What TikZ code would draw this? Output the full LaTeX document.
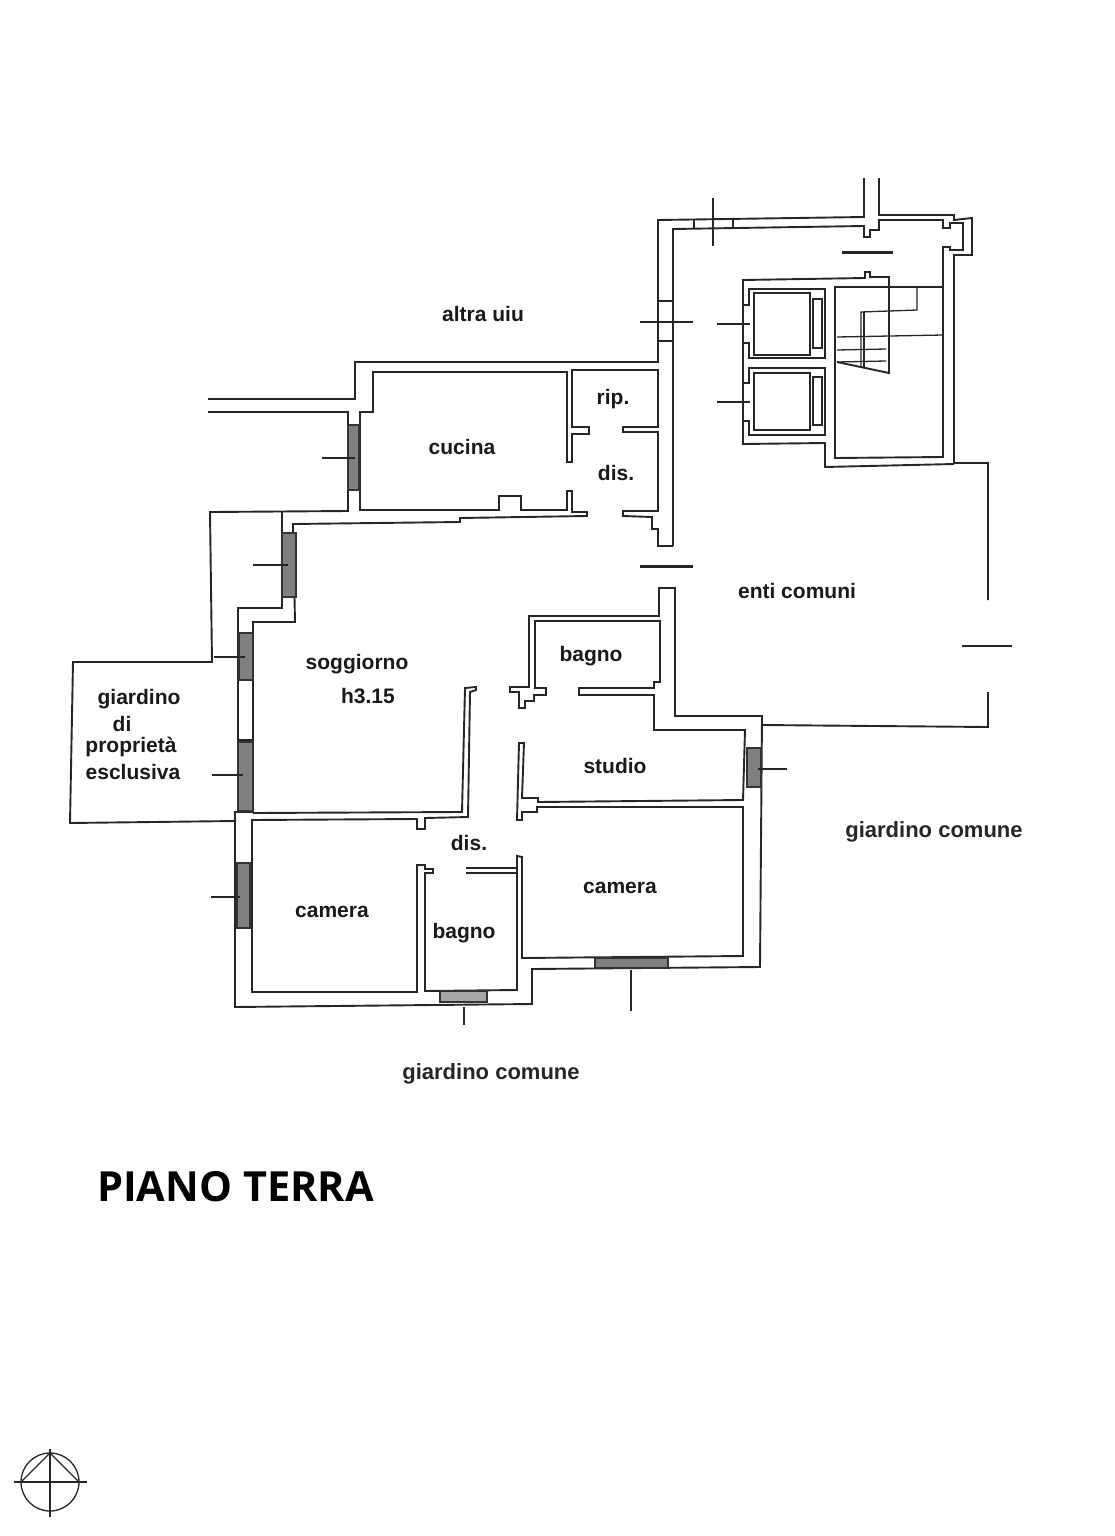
\documentclass[tikz,border=0pt]{standalone}
\usepackage{fontspec}
\setmainfont{Liberation Sans}
\newfontfamily\titlefont{Open Sans}
\tikzset{
  wall/.style={line width=1.9pt, draw=black!85, line join=miter},
  heavy/.style={line width=3pt, draw=black!85},
  thinwall/.style={line width=1.3pt, draw=black!85},
  glass/.style={line width=1.2pt, draw=black!80, fill=black!50},
  paleglass/.style={line width=1.2pt, draw=black!80, fill=black!35},
  room/.style={font=\fontsize{21}{24}\selectfont\bfseries, text=black!90, inner sep=0pt},
  gardenlabel/.style={font=\fontsize{22}{24}\selectfont\bfseries, text=black!85, inner sep=0pt},
}
\begin{document}
\begin{tikzpicture}[x=1pt,y=-1pt]
    \useasboundingbox (0,0) rectangle (1115,1536);
    % upper block, outer face
    \draw[wall] (864,178) -- (864,217) -- (658,220) -- (658,362) -- (355,362) -- (355,399) -- (208,399);
    \draw[wall] (879,178) -- (879,215) -- (954,215) -- (954,220) -- (972,218) -- (972,255) -- (954,255) -- (954,463) -- (988,463) -- (988,600);
    % upper block, inner face
    \draw[wall] (673,546) -- (673,229) -- (864,226) -- (864,237) -- (870,237) -- (870,230) -- (879,230) -- (879,220) -- (943,220) -- (943,228) -- (950,228) -- (950,223) -- (963,223) -- (963,250) -- (950,250) -- (950,247) -- (943,247) -- (943,457);
    \draw[thinwall] (694,220) -- (694,229);
    \draw[thinwall] (733,219) -- (733,228);
    \draw[thinwall] (658,301) -- (673,301);
    \draw[wall] (658,341) -- (673,341);
    \draw[thinwall] (713,198) -- (713,246);
    \draw[thinwall] (640,322) -- (693,322);
    \draw[heavy] (842,252) -- (893,252);
    % kitchen and corridor
    \draw[wall] (673,546) -- (658,546) -- (658,529) -- (652,529) -- (652,517) -- (623,516) -- (623,511) -- (658,511) -- (658,432) -- (623,432) -- (623,427) -- (658,427) -- (658,370) -- (572,370) -- (572,427) -- (589,427) -- (589,434) -- (572,434) -- (572,462) -- (567,462) -- (567,372) -- (373,372) -- (373,412) -- (360,412) -- (360,510) -- (499,510) -- (499,496) -- (521,496) -- (521,510) -- (567,510) -- (567,491) -- (572,491) -- (572,512) -- (587,512) -- (587,516) -- (460,518) -- (460,522) -- (293,524) -- (295,622) -- (253,622) -- (253,813);
    \draw[wall] (208,412) -- (348,412) -- (348,511) -- (210,512) -- (212,662) -- (73,662) -- (70,823) -- (236,821);
    \draw[wall] (282,512) -- (282,608) -- (238,608) -- (238,812) -- (235,812) -- (235,1007) -- (532,1004) -- (532,969) -- (760,967) -- (762,716) -- (675,716) -- (675,588) -- (659,588) -- (659,616) -- (529,616) -- (529,687) -- (510,687) -- (510,692) -- (519,692) -- (519,708) -- (525,708) -- (525,701) -- (534,701) -- (534,695) -- (546,695) -- (546,688) -- (535,688) -- (535,621) -- (660,621) -- (660,682) -- (654,682) -- (654,688) -- (579,688) -- (579,695) -- (654,695) -- (654,730) -- (745,730) -- (743,800) -- (538,802) -- (538,798) -- (522,798) -- (524,743) -- (519,743) -- (517,820) -- (522,820) -- (522,812) -- (537,812) -- (537,807) -- (743,807) -- (743,956) -- (522,958) -- (522,857) -- (517,856) -- (517,990) -- (425,991) -- (425,873) -- (433,873) -- (433,869) -- (425,869) -- (425,865) -- (417,865) -- (417,992) -- (252,992) -- (252,820) -- (417,819) -- (417,829) -- (425,829) -- (425,818) -- (468,817) -- (470,692) -- (476,690) -- (476,687) -- (465,688) -- (462,812) -- (253,813);
    \draw[wall] (466,868) -- (518,868);
    \draw[wall] (466,873) -- (518,873);
    \draw[thinwall] (236,812) -- (253,812);
    % enti comuni boundary
    \draw[wall] (988,692) -- (988,727) -- (762,725);
    \draw[thinwall] (962,646) -- (1012,646);
    \draw[heavy] (640,566) -- (693,566);
    % windows
    \draw[glass] (348,425) rectangle (359,490);
    \draw[glass] (282,533) rectangle (296,597);
    \draw[glass] (239,633) rectangle (253,680);
    \draw[glass] (238,742) rectangle (253,811);
    \draw[glass] (237,863) rectangle (250,928);
    \draw[paleglass] (440,991) rectangle (487,1002);
    \draw[glass] (595,958) rectangle (668,968);
    \draw[glass] (747,748) rectangle (761,787);
    \draw[thinwall] (238,740) -- (253,740);
    % window ticks
    \draw[thinwall] (322,458) -- (355,458);
    \draw[thinwall] (253,565) -- (288,565);
    \draw[thinwall] (214,657) -- (245,657);
    \draw[thinwall] (212,775) -- (243,775);
    \draw[thinwall] (211,897) -- (240,897);
    \draw[thinwall] (464,1007) -- (464,1025);
    \draw[thinwall] (631,970) -- (631,1011);
    \draw[thinwall] (758,769) -- (787,769);
    % lift and stairs block
    \draw[wall] (825,458) -- (825,443) -- (743,444) -- (743,280) -- (865,278) -- (865,272) -- (870,272) -- (870,277) -- (889,277) -- (889,373) -- (837,362);
    \draw[wall] (825,443) -- (825,467) -- (954,464);
    \draw[wall] (835,287) -- (835,458) -- (943,457) -- (943,287) -- cycle;
    \draw[thinwall] (837,337) -- (943,335);
    \draw[thinwall] (837,350) -- (886,349);
    \draw[thinwall] (837,362) -- (886,361);
    \draw[thinwall] (917,287) -- (917,310) -- (861,312) -- (861,367);
    \draw[thinwall] (864,312) -- (864,367);
    % lift shafts
    \foreach \top/\inner/\bottom/\nuba/\nubb/\room in {289/293/358/305/343/355, 368/373/435/383/421/430}{
      \draw[wall] (744,\nuba) -- (749,\nuba) -- (749,\top) -- (825,\top) -- (825,\bottom) -- (749,\bottom) -- (749,\nubb) -- (744,\nubb);
      \draw[wall] (754,\inner) rectangle (810,\room);
    }
    \draw[thinwall] (813,299) rectangle (822,348);
    \draw[thinwall] (813,377) rectangle (822,425);
    \draw[thinwall] (717,324) -- (750,324);
    \draw[thinwall] (717,402) -- (750,402);
    % labels
    \node[room] (altra) at (483,314) {altra uiu};
    \node[room] (cucina) at (462,447) {cucina};
    \node[room] (rip) at (613,399) {rip.};
    \node[room] (disup) at (616,473) {dis.};
    \node[room] (enti) at (797,591) {enti comuni};
    \node[room] (soggiorno) at (357,664) {soggiorno};
    \node[room] (altezza) at (368,696) {h3.15};
    \node[room] (bagnoup) at (591,656) {bagno};
    \node[room] (studio) at (615,766) {studio};
    \node[room] (giardino) at (139,699) {giardino};
    \node[room] (di) at (122,724) {di};
    \node[room] (proprieta) at (131,747) {proprietà};
    \node[room] (esclusiva) at (133,772) {esclusiva};
    \node[room] (dislow) at (469,843) {dis.};
    \node[room] (cameraright) at (620,888) {camera};
    \node[room] (cameraleft) at (332,912) {camera};
    \node[room] (bagnolow) at (464,933) {bagno};
    \node[gardenlabel] (gardeneast) at (934,832) {giardino comune};
    \node[gardenlabel] (gardensouth) at (491,1074) {giardino comune};
    \node[anchor=west, inner sep=0pt, font=\titlefont\fontsize{41.5}{44}\selectfont\bfseries] (titolo) at (97,1187) {PIANO TERRA};
    % compass
    \coordinate (north) at (50,1453);
    \coordinate (west) at (21,1482);
    \coordinate (east) at (79,1482);
    \draw[thinwall] (50,1482) circle (29);
    \draw[thinwall] (14,1482) -- (87,1482);
    \draw[thinwall] (50,1449) -- (50,1517);
    \draw[thinwall] (west) -- (north) -- (east);
\end{tikzpicture}
\end{document}
